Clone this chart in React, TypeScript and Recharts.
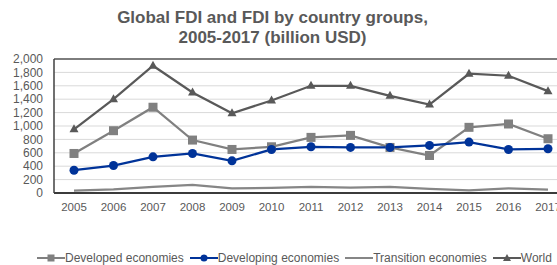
import React from "react";
import { LineChart, Line, XAxis, YAxis, CartesianGrid, Legend, ReferenceLine } from "recharts";

const years = ["2005","2006","2007","2008","2009","2010","2011","2012","2013","2014","2015","2016","2017"];
const developed = [590, 930, 1280, 790, 650, 690, 830, 860, 680, 560, 980, 1030, 810];
const developing = [340, 410, 540, 590, 480, 650, 690, 680, 680, 710, 760, 650, 660];
const transition = [35, 55, 90, 120, 70, 75, 90, 80, 90, 60, 40, 70, 50];
const world = [950, 1400, 1900, 1500, 1190, 1380, 1600, 1600, 1450, 1320, 1780, 1750, 1520];
const yTicks = [0, 200, 400, 600, 800, 1000, 1200, 1400, 1600, 1800, 2000];

const data = years.map((y, i) => ({
  year: y,
  developed: developed[i],
  developing: developing[i],
  transition: transition[i],
  world: world[i],
}));

const FONT = "Arial, 'Liberation Sans', sans-serif";
const TXT = "#595959";
const C_DEV = "#808080";
const C_DEVING = "#003399";
const C_TRANS = "#868686";
const C_WORLD = "#595959";

const SquareDot = (props: any) => {
  const { cx, cy, index } = props;
  if (cx == null || cy == null) return <g key={index} />;
  return <rect key={index} x={cx - 4.5} y={cy - 4.5} width={9} height={9} fill={C_DEV} />;
};
const CircleDot = (props: any) => {
  const { cx, cy, index } = props;
  if (cx == null || cy == null) return <g key={index} />;
  return <circle key={index} cx={cx} cy={cy} r={4.5} fill={C_DEVING} />;
};
const TriDot = (props: any) => {
  const { cx, cy, index } = props;
  if (cx == null || cy == null) return <g key={index} />;
  return <polygon key={index} points={`${cx},${cy - 5} ${cx - 4.5},${cy + 3} ${cx + 4.5},${cy + 3}`} fill={C_WORLD} />;
};

const legendItems = [
  { label: "Developed economies", color: C_DEV, marker: "square" },
  { label: "Developing economies", color: C_DEVING, marker: "circle" },
  { label: "Transition economies", color: C_TRANS, marker: "none" },
  { label: "World", color: C_WORLD, marker: "triangle" },
];

const LegendContent = () => (
  <div style={{ display: "flex", justifyContent: "flex-start", alignItems: "center", fontFamily: FONT, fontSize: 12, color: TXT, whiteSpace: "nowrap" }}>
    {legendItems.map((it) => (
      <div key={it.label} style={{ display: "flex", alignItems: "center", marginRight: 6 }}>
        <svg width={28} height={10}>
          <line x1={0} y1={5} x2={28} y2={5} stroke={it.color} strokeWidth={2} />
          {it.marker === "square" && <rect x={10.5} y={1.5} width={7} height={7} fill={it.color} />}
          {it.marker === "circle" && <circle cx={14} cy={5} r={3.5} fill={it.color} />}
          {it.marker === "triangle" && <polygon points="14,1 10,8 18,8" fill={it.color} />}
        </svg>
        <span>{it.label}</span>
      </div>
    ))}
  </div>
);

export default function App() {
  return (
    <div style={{ position: "absolute", left: 0, top: 0, width: 557, height: 265, overflow: "hidden", background: "#fff" }}>
      <div style={{ position: "absolute", left: 0, top: 8, width: 545, textAlign: "center", fontFamily: FONT, fontWeight: "bold", fontSize: 17, lineHeight: "20px", color: TXT }}>
        Global FDI and FDI by country groups,<br />2005-2017 (billion USD)
      </div>
      <LineChart width={580} height={265} data={data} margin={{ top: 59, right: 12, bottom: 42, left: 0 }}>
        <CartesianGrid vertical={false} stroke="#d9d9d9" />
        <XAxis
          dataKey="year"
          padding={{ left: 20, right: 20 }}
          tickLine={false}
          tickMargin={4}
          axisLine={{ stroke: "#000", strokeWidth: 1.5 }}
          tick={{ fill: TXT, fontSize: 11.5, fontFamily: FONT }}
          interval={0}
          height={30}
        />
        <YAxis
          width={54}
          domain={[0, 2000]}
          ticks={yTicks}
          interval={0}
          tickLine={false}
          tickMargin={5}
          axisLine={{ stroke: "#404040", strokeWidth: 1.5 }}
          tick={{ fill: TXT, fontSize: 12, fontFamily: FONT }}
          tickFormatter={(v: number) => v.toLocaleString("en-US")}
        />
        <ReferenceLine y={2000} stroke="#595959" strokeWidth={1.5} />
        <Line dataKey="developed" stroke={C_DEV} strokeWidth={2.25} dot={SquareDot} isAnimationActive={false} />
        <Line dataKey="developing" stroke={C_DEVING} strokeWidth={2.25} dot={CircleDot} isAnimationActive={false} />
        <Line dataKey="transition" stroke={C_TRANS} strokeWidth={2.25} dot={false} isAnimationActive={false} />
        <Line dataKey="world" stroke={C_WORLD} strokeWidth={2.25} dot={TriDot} isAnimationActive={false} />
        <Legend
          layout="horizontal"
          verticalAlign="middle"
          align="center"
          content={LegendContent}
          wrapperStyle={{ top: 251, left: 37, width: 540 }}
        />
      </LineChart>
    </div>
  );
}
